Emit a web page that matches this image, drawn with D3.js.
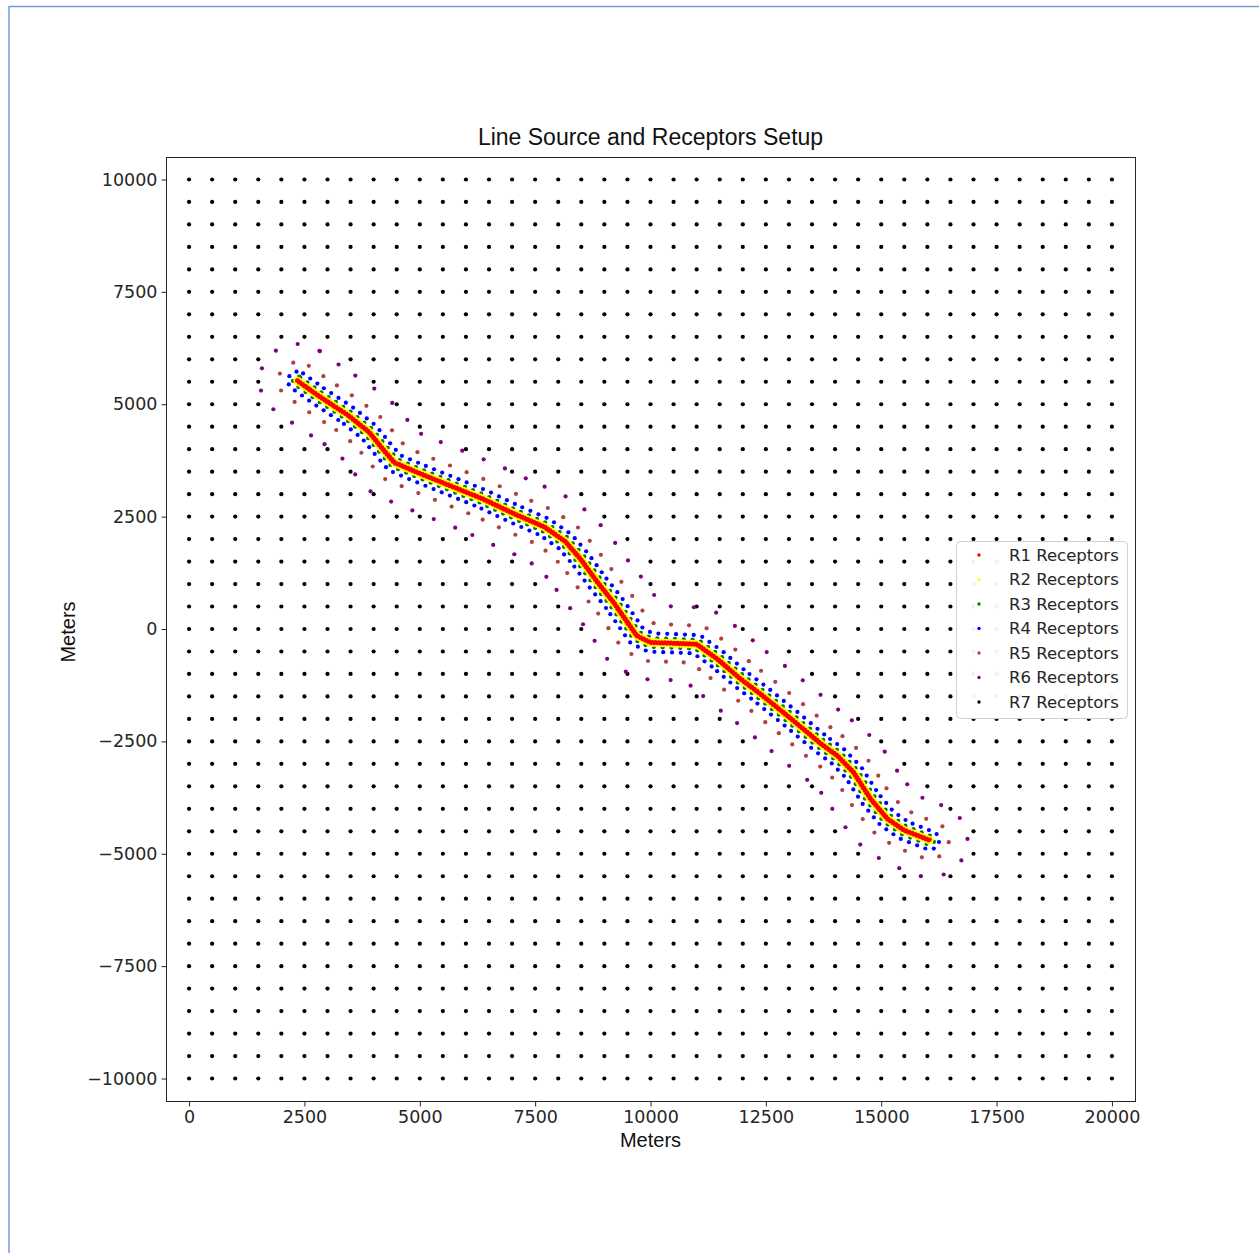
<!DOCTYPE html>
<html>
<head>
<meta charset="utf-8">
<script src="https://cdn.jsdelivr.net/npm/d3@7"></script>
<style>
body { margin: 0; background: #fff; }
svg { display: block; }
</style>
</head>
<body>
<div id="chart"></div>
<script>
(function()
{
    // line source centreline (meters)
    var lineX = [2350, 2800, 3450, 3900, 4200, 4450, 4950, 5650, 6350, 7050, 7700, 8150, 8480, 8850, 9200, 9500, 9700, 10000, 10550, 11000, 11450, 11950, 12350, 13050, 13700, 14050, 14400, 14770, 15130, 15500, 16050];
    var lineY = [5520, 5190, 4750, 4380, 4000, 3700, 3480, 3190, 2900, 2560, 2270, 1950, 1560, 1040, 590, 150, -150, -300, -320, -340, -670, -1110, -1420, -2000, -2560, -2820, -3190, -3780, -4220, -4480, -4700];

    var seriesNames = ["R1 Receptors", "R2 Receptors", "R3 Receptors", "R4 Receptors", "R5 Receptors", "R6 Receptors", "R7 Receptors"];
    var seriesColors = ["red", "yellow", "green", "blue", "#b0413e", "purple", "black"];
    // receptor rings around the line: buffer distance and spacing along the ring (m)
    var bufferDist = [12, 50, 100, 205, 415, 820];
    var bufferStep = [65, 55, 190, 190, 390, 500];
    // R7 regular grid
    var gridX = [0, 500, 1000, 1500, 2000, 2500, 3000, 3500, 4000, 4500, 5000, 5500, 6000, 6500, 7000, 7500, 8000, 8500, 9000, 9500, 10000, 10500, 11000, 11500, 12000, 12500, 13000, 13500, 14000, 14500, 15000, 15500, 16000, 16500, 17000, 17500, 18000, 18500, 19000, 19500, 20000];
    var gridY = [-10000, -9500, -9000, -8500, -8000, -7500, -7000, -6500, -6000, -5500, -5000, -4500, -4000, -3500, -3000, -2500, -2000, -1500, -1000, -500, 0, 500, 1000, 1500, 2000, 2500, 3000, 3500, 4000, 4500, 5000, 5500, 6000, 6500, 7000, 7500, 8000, 8500, 9000, 9500, 10000];
    var xTicks = [0, 2500, 5000, 7500, 10000, 12500, 15000, 17500, 20000];
    var yTicks = [-10000, -7500, -5000, -2500, 0, 2500, 5000, 7500, 10000];

    var width = 1259, height = 1253;
    var left = 166, right = 1135, top = 157, bottom = 1101;
    var dotR = 2.1;

    var svg = d3.select("#chart").append("svg")
        .attr("width", width)
        .attr("height", height);

    // notebook output frame
    svg.append("line").attr("x1", 9).attr("x2", width).attr("y1", 6.5).attr("y2", 6.5)
        .attr("stroke", "#6a9fd8").attr("stroke-width", 1.5);
    svg.append("line").attr("x1", 9).attr("x2", 9).attr("y1", 6).attr("y2", height)
        .attr("stroke", "#6a9fd8").attr("stroke-width", 1.5);

    var x = d3.scaleLinear().domain([-500, 20500]).range([left, right]);
    var y = d3.scaleLinear().domain([-10500, 10500]).range([bottom, top]);

    var line = lineX.map(function(d, i){ return [d, lineY[i]]; });

    function segDist(p, a, b) {
        var dx = b[0] - a[0], dy = b[1] - a[1];
        var t = ((p[0] - a[0]) * dx + (p[1] - a[1]) * dy) / (dx * dx + dy * dy);
        t = Math.max(0, Math.min(1, t));
        var qx = a[0] + t * dx - p[0], qy = a[1] + t * dy - p[1];
        return Math.sqrt(qx * qx + qy * qy);
    }
    function lineDist(p) {
        var m = Infinity;
        for (var i = 0; i < line.length - 1; i++) m = Math.min(m, segDist(p, line[i], line[i + 1]));
        return m;
    }

    // points on the buffer outline at distance d, every `step` meters
    function ring(d, step) {
        var q = line.concat(line.slice(1, -1).reverse());
        var m = q.length, dense = [], h = 4;
        function normal(a, b) {
            var dx = b[0] - a[0], dy = b[1] - a[1], l = Math.sqrt(dx * dx + dy * dy);
            return [-dy / l, dx / l];
        }
        for (var k = 0; k < m; k++) {
            var a = q[k], b = q[(k + 1) % m], c = q[(k + 2) % m];
            var n = normal(a, b), len = Math.hypot(b[0] - a[0], b[1] - a[1]);
            var ns = Math.max(1, Math.ceil(len / h));
            for (var s = 0; s < ns; s++) {
                var t = s / ns;
                dense.push([a[0] + t * (b[0] - a[0]) + d * n[0], a[1] + t * (b[1] - a[1]) + d * n[1]]);
            }
            var n2 = normal(b, c);
            var a1 = Math.atan2(n[1], n[0]), a2 = Math.atan2(n2[1], n2[0]);
            var sw = a2 - a1;
            while (sw > Math.PI) sw -= 2 * Math.PI;
            while (sw <= -Math.PI) sw += 2 * Math.PI;
            if (Math.abs(Math.abs(sw) - Math.PI) < 1e-6) sw = -Math.PI;
            var na = Math.ceil(Math.abs(sw) * d / h);
            for (var j = 0; j < na; j++) {
                var ang = a1 + sw * j / na;
                dense.push([b[0] + d * Math.cos(ang), b[1] + d * Math.sin(ang)]);
            }
        }
        dense = dense.filter(function(p){ return lineDist(p) >= d * 0.995; });
        var out = [dense[0]], acc = 0;
        for (var i = 1; i < dense.length; i++) {
            acc += Math.hypot(dense[i][0] - dense[i - 1][0], dense[i][1] - dense[i - 1][1]);
            if (acc >= step) { out.push(dense[i]); acc = 0; }
        }
        return out;
    }

    var series = bufferDist.map(function(d, i){ return ring(d, bufferStep[i]); });
    var grid = [];
    gridX.forEach(function(gx){
        gridY.forEach(function(gy){
            if (lineDist([gx, gy]) > bufferDist[5]) grid.push([gx, gy]);
        });
    });
    series.push(grid);

    var plot = svg.append("g");
    // R7 first, R1 last so the line core sits on top
    for (var s = series.length - 1; s >= 0; s--) {
        plot.selectAll(".r" + s).data(series[s])
            .enter().append("circle")
            .attr("class", "r" + s)
            .attr("cx", function(d){ return x(d[0]); })
            .attr("cy", function(d){ return y(d[1]); })
            .attr("r", dotR)
            .attr("fill", seriesColors[s]);
    }

    svg.append("rect")
        .attr("x", left + 0.5).attr("y", top + 0.5)
        .attr("width", right - left).attr("height", bottom - top)
        .attr("fill", "none").attr("stroke", "#262626").attr("stroke-width", 1);

    var xAxis = d3.axisBottom(x).tickValues(xTicks).tickFormat(d3.format("d")).tickSize(5).tickSizeOuter(0).tickPadding(4);
    var yAxis = d3.axisLeft(y).tickValues(yTicks).tickFormat(d3.format("d")).tickSize(5).tickSizeOuter(0).tickPadding(4);

    var gx = svg.append("g").attr("transform", "translate(0," + (bottom + 0.5) + ")").call(xAxis);
    var gy = svg.append("g").attr("transform", "translate(" + (left + 0.5) + ",0)").call(yAxis);
    [gx, gy].forEach(function(g){
        g.select(".domain").remove();
        g.selectAll("line").attr("stroke", "#262626");
        g.selectAll("text").attr("fill", "#262626")
            .style("font-family", "'DejaVu Sans', sans-serif").style("font-size", "17.5px");
    });

    svg.append("text")
        .attr("x", (left + right) / 2).attr("y", 145)
        .attr("text-anchor", "middle")
        .style("font-family", "'Liberation Sans', Arial, sans-serif").style("font-size", "23px")
        .attr("fill", "#111")
        .text("Line Source and Receptors Setup");

    svg.append("text")
        .attr("x", (left + right) / 2).attr("y", 1147)
        .attr("text-anchor", "middle")
        .style("font-family", "'Liberation Sans', Arial, sans-serif").style("font-size", "20px")
        .attr("fill", "#111")
        .text("Meters");

    svg.append("text")
        .attr("transform", "translate(75,632) rotate(-90)")
        .attr("text-anchor", "middle")
        .style("font-family", "'Liberation Sans', Arial, sans-serif").style("font-size", "20px")
        .attr("fill", "#111")
        .text("Meters");

    // legend
    var legend = svg.append("g");
    legend.append("rect")
        .attr("x", 956.5).attr("y", 541.5).attr("width", 171).attr("height", 177).attr("rx", 4)
        .attr("fill", "#fff").attr("fill-opacity", 0.95)
        .attr("stroke", "#d0d0d0").attr("stroke-width", 1);
    var items = legend.selectAll(".item").data(seriesNames)
        .enter().append("g")
        .attr("class", "item")
        .attr("transform", function(d, i){ return "translate(0," + (555 + i * 24.5) + ")"; });
    items.append("circle").attr("cx", 979).attr("cy", 0).attr("r", 1.7)
        .attr("fill", function(d, i){ return seriesColors[i]; });
    items.append("text").attr("x", 1009).attr("y", 0).attr("dy", "0.36em")
        .style("font-family", "'DejaVu Sans', sans-serif").style("font-size", "16.5px")
        .attr("fill", "#262626")
        .text(function(d){ return d; });
})();
</script>
</body>
</html>
